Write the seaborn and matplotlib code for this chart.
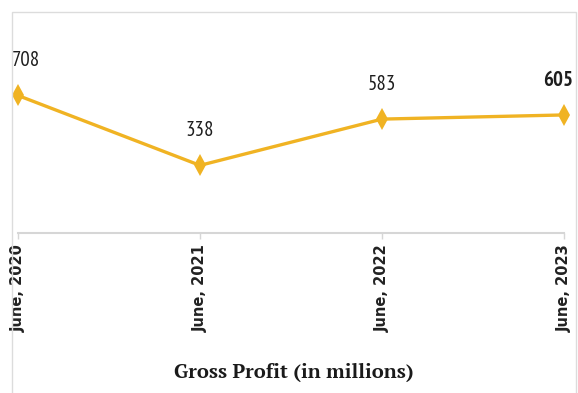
import matplotlib
matplotlib.use("Agg")
import matplotlib.pyplot as plt
from matplotlib.patches import Rectangle
import seaborn as sns
import pandas as pd

periods = ["June, 2020", "June, 2021", "June, 2022", "June, 2023"]
gross_profit = [708, 338, 583, 605]
bold_labels = [False, False, False, True]
title = "Gross Profit (in millions)"

sns.set_theme(style="white")
plt.rcParams["font.family"] = ["DejaVu Sans"]

df = pd.DataFrame({"period": periods, "profit": gross_profit})
df["pos"] = range(len(df))

fig = plt.figure(figsize=(5.78, 3.93), dpi=100)
ax = fig.add_axes([18 / 578, 1 - 233 / 393, (564 - 18) / 578, (233 - 12) / 393])

line_color = "#F0B323"
sns.lineplot(data=df, x="pos", y="profit", ax=ax, color=line_color,
             linewidth=2.4, marker="d", markersize=11, markeredgewidth=0,
             clip_on=False)

ax.set_xlim(0, len(df) - 1)
ax.set_ylim(-20, 1150)
ax.set_xlabel("")
ax.set_ylabel("")
ax.set_yticks([])
ax.set_xticks(df["pos"])
ax.set_xticklabels(df["period"], rotation=90, fontsize=10.5, fontweight="bold",
                   color="#222222", va="top", ha="center")
ax.tick_params(axis="x", length=4, width=1, color="#d6d6d6", pad=4, bottom=True)

for side in ["left", "right", "top"]:
    ax.spines[side].set_visible(False)
ax.spines["bottom"].set_color("#d6d6d6")
ax.spines["bottom"].set_linewidth(1.5)

# value labels above each point; the end labels are nudged inward
label_font = ["PT Sans Narrow", "DejaVu Sans"]
n = len(df)
for x, y, b in zip(df["pos"], df["profit"], bold_labels):
    dx = 6 if x == 0 else (-4 if x == n - 1 else 0)
    ax.annotate(f"{y}", (x, y), xytext=(dx, 25), textcoords="offset points",
                ha="center", va="center", fontsize=15,
                fontweight="bold" if b else "normal",
                family=label_font, color="#1e1e1e", annotation_clip=False)

fig.text(0.509, 1 - 372 / 393, title, ha="center", va="center",
         fontsize=14.5, fontweight="bold", family=["PT Serif", "DejaVu Serif"],
         color="#1a1a1a")

# light outer frame
fig.patches.append(Rectangle((12 / 578, -0.1), (576 - 12) / 578, 1.1 - 12 / 393,
                             transform=fig.transFigure, fill=False,
                             edgecolor="#dcdcdc", linewidth=1))

fig.savefig("out.png", dpi=100)
